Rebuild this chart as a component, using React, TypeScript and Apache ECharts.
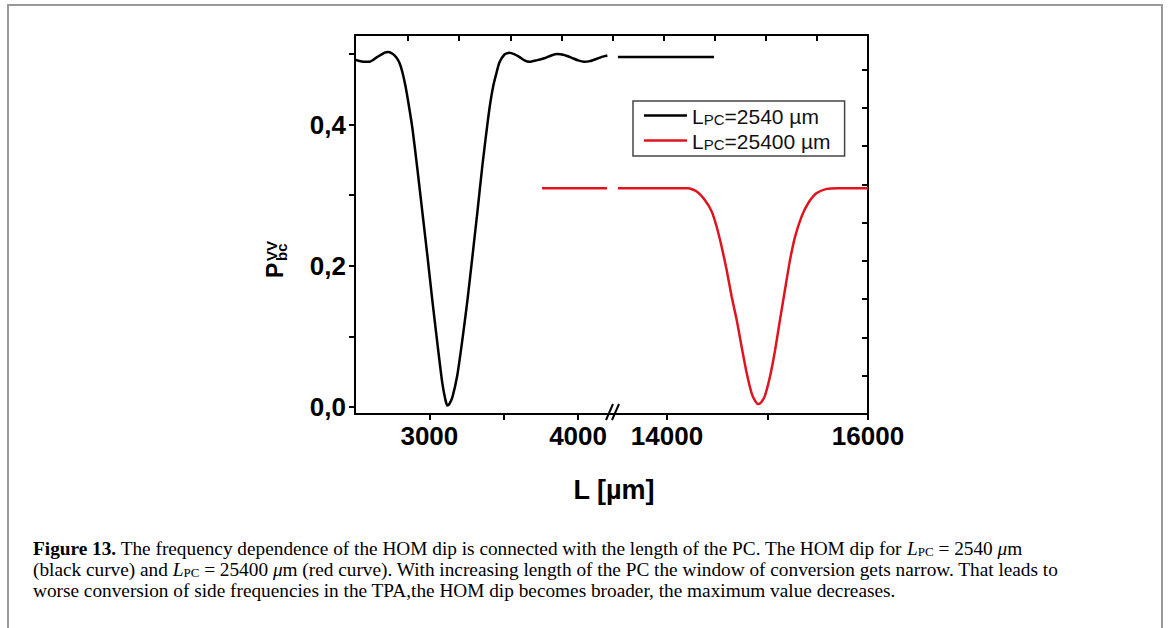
import React, { useEffect, useRef } from "react";
import * as echarts from "echarts";

// ---- data ----
const NAME_A = "LPC=2540 µm";
const NAME_B = "LPC=25400 µm";

// black curve, left segment of the broken x axis
const blackLeft: [number, number][] = [
  [2500, 0.492], [2516, 0.491], [2560, 0.489], [2597, 0.489], [2651, 0.496], [2700, 0.502],
  [2724, 0.503], [2755, 0.500], [2778, 0.495], [2798, 0.488], [2818, 0.475], [2839, 0.455],
  [2859, 0.431], [2886, 0.395], [2919, 0.338], [2953, 0.276], [2987, 0.214], [3020, 0.151],
  [3054, 0.090], [3087, 0.034], [3108, 0.010], [3121, 0.002], [3134, 0.004], [3155, 0.014],
  [3188, 0.045], [3222, 0.095], [3256, 0.151], [3289, 0.212], [3323, 0.276], [3356, 0.341],
  [3390, 0.400], [3410, 0.431], [3430, 0.455], [3451, 0.473], [3471, 0.488], [3504, 0.499],
  [3538, 0.502], [3570, 0.500], [3605, 0.496], [3640, 0.491], [3672, 0.489], [3720, 0.491],
  [3773, 0.494], [3820, 0.498], [3860, 0.500], [3900, 0.499], [3955, 0.495], [4000, 0.491],
  [4042, 0.489], [4080, 0.490], [4123, 0.493], [4160, 0.496], [4197, 0.498],
];
// black curve, right segment
const blackRight: [number, number][] = [[13512, 0.496], [14468, 0.496]];
// red curve, left segment
const redLeft: [number, number][] = [[3758, 0.31], [4195, 0.31]];
// red curve, right segment
const redRight: [number, number][] = [
  [13512, 0.31], [14209, 0.31], [14299, 0.305], [14378, 0.293], [14445, 0.277], [14495, 0.255],
  [14544, 0.227], [14594, 0.194], [14644, 0.156], [14694, 0.123], [14743, 0.085], [14793, 0.048],
  [14843, 0.019], [14880, 0.008], [14908, 0.004], [14940, 0.007], [14975, 0.016], [15025, 0.043],
  [15075, 0.080], [15124, 0.123], [15174, 0.166], [15224, 0.208], [15274, 0.241], [15340, 0.270],
  [15406, 0.289], [15490, 0.303], [15589, 0.309], [15700, 0.31], [16000, 0.31],
];

const leftTicks = [3000, 3500, 4000];
const leftLabels = [3000, 4000];
const rightTicks = [14000, 15000, 16000];
const rightLabels = [14000, 16000];
const yTicks = [0, 0.1, 0.2, 0.3, 0.4, 0.5];
const yLabels = [0, 0.2, 0.4];

const AX = "Liberation Sans";
const SERIF = "Liberation Serif";
const RED = "#e0141e";

export default function App() {
  const ref = useRef<HTMLDivElement>(null);
  useEffect(() => {
    if (!ref.current) return;
    const chart = echarts.init(ref.current, null, { renderer: "svg" });
    const axisLine = { show: true, onZero: false, lineStyle: { color: "#000", width: 2 } };
    const labelStyle = { color: "#000", fontSize: 26, fontWeight: "bold", fontFamily: AX };
    const lineBlack = { color: "#000", width: 2.5 };
    const lineRed = { color: RED, width: 2.5 };
    const FS = 19.3;
    const capRich = {
      r: { fontFamily: SERIF, fontSize: FS, color: "#111", lineHeight: 24, verticalAlign: "bottom" },
      b: { fontFamily: SERIF, fontSize: FS, fontWeight: "bold", color: "#111", lineHeight: 24, verticalAlign: "bottom" },
      i: { fontFamily: SERIF, fontSize: FS, fontStyle: "italic", color: "#111", lineHeight: 24, verticalAlign: "bottom" },
      s: { fontFamily: SERIF, fontSize: 13, color: "#111", lineHeight: 15, verticalAlign: "bottom" },
    };
    const numFmt = (v: number) => String(Math.round(v));
    const option: any = {
      animation: false,
      grid: [
        { left: 355, top: 35, width: 258, height: 379 },
        { left: 613, top: 35, width: 255, height: 379 },
        { left: 355, top: 35, width: 513, height: 379 },
      ],
      xAxis: [
        {
          gridIndex: 0, type: "value", min: 2500, max: 4235,
          axisLine, splitLine: { show: false },
          axisTick: { show: true, inside: false, length: 6, lineStyle: { color: "#000", width: 2 }, customValues: leftTicks },
          axisLabel: { ...labelStyle, margin: 9, customValues: leftLabels, formatter: numFmt },
        },
        {
          gridIndex: 1, type: "value", min: 13463, max: 16000,
          axisLine, splitLine: { show: false },
          axisTick: { show: true, inside: false, length: 6, lineStyle: { color: "#000", width: 2 }, customValues: rightTicks },
          axisLabel: { ...labelStyle, margin: 9, customValues: rightLabels, formatter: numFmt },
        },
        {
          gridIndex: 2, type: "value", position: "top", inverse: true, min: 0, max: 10.04, interval: 1,
          axisLine, splitLine: { show: false },
          axisTick: { show: true, inside: true, length: 6, lineStyle: { color: "#000", width: 2 }, customValues: [1, 2, 3, 4, 5, 6, 7, 8, 9] },
          axisLabel: { show: false },
        },
      ],
      yAxis: [
        {
          gridIndex: 0, type: "value", min: -0.01, max: 0.527,
          axisLine, splitLine: { show: false },
          axisTick: { show: true, inside: false, length: 6, lineStyle: { color: "#000", width: 2 }, customValues: yTicks },
          axisLabel: {
            ...labelStyle, margin: 9, customValues: yLabels,
            formatter: (v: number) => v.toFixed(1).replace(".", ","),
          },
        },
        { gridIndex: 1, type: "value", min: -0.01, max: 0.527, show: false },
        {
          gridIndex: 2, type: "value", position: "right", min: 0, max: 9.9, interval: 1,
          axisLine, splitLine: { show: false },
          axisTick: { show: true, inside: true, length: 6, lineStyle: { color: "#000", width: 2 }, customValues: [1, 2, 3, 4, 5, 6, 7, 8, 9] },
          axisLabel: { show: false },
        },
      ],
      legend: {
        show: true,
        data: [NAME_A, NAME_B],
        orient: "vertical",
        left: 633,
        top: 101,
        icon: "rect",
        itemWidth: 43,
        itemHeight: 2.5,
        itemGap: 4,
        padding: [5, 14, 4, 11],
        borderColor: "#444",
        borderWidth: 1.5,
        formatter: (n: string) =>
          n === NAME_A ? "{a|L}{b|PC}{a|=2540 µm}" : "{a|L}{b|PC}{a|=25400 µm}",
        textStyle: {
          color: "#000",
          rich: {
            a: { fontFamily: AX, fontSize: 21, color: "#111", lineHeight: 23, verticalAlign: "bottom" },
            b: { fontFamily: AX, fontSize: 15, color: "#111", lineHeight: 21, verticalAlign: "bottom" },
          },
        },
      },
      series: [
        { type: "line", name: NAME_A, xAxisIndex: 0, yAxisIndex: 0, data: blackLeft, symbol: "none", smooth: 0.2, lineStyle: lineBlack, itemStyle: { color: "#000" } },
        { type: "line", name: NAME_A, xAxisIndex: 1, yAxisIndex: 1, data: blackRight, symbol: "none", lineStyle: lineBlack, itemStyle: { color: "#000" } },
        { type: "line", name: NAME_B, xAxisIndex: 0, yAxisIndex: 0, data: redLeft, symbol: "none", lineStyle: lineRed, itemStyle: { color: RED } },
        { type: "line", name: NAME_B, xAxisIndex: 1, yAxisIndex: 1, data: redRight, symbol: "none", smooth: 0.2, lineStyle: lineRed, itemStyle: { color: RED } },
      ],
      graphic: [
        { type: "rect", silent: true, shape: { x: 8, y: 5, width: 1154, height: 700 }, style: { fill: "none", stroke: "#999", lineWidth: 2 } },
        // axis break marks
        { type: "line", shape: { x1: 606, y1: 420, x2: 613, y2: 404 }, style: { stroke: "#000", lineWidth: 2 } },
        { type: "line", shape: { x1: 612, y1: 420, x2: 619, y2: 404 }, style: { stroke: "#000", lineWidth: 2 } },
        // x axis title
        { type: "text", x: 614, y: 490, style: { text: "L [µm]", fontFamily: AX, fontWeight: "bold", fontSize: 27, fill: "#000", align: "center", verticalAlign: "middle" } },
        // y axis title P^VV_bc rotated
        {
          type: "group", x: 275, y: 278, rotation: Math.PI / 2,
          children: [
            { type: "text", x: 0, y: 0, style: { text: "P", fontFamily: AX, fontWeight: "bold", fontSize: 23, fill: "#000", align: "left", verticalAlign: "middle" } },
            { type: "text", x: 17, y: -4, style: { text: "VV", fontFamily: AX, fontWeight: "bold", fontSize: 15, fill: "#000", align: "left", verticalAlign: "middle" } },
            { type: "text", x: 17, y: 6, style: { text: "bc", fontFamily: AX, fontWeight: "bold", fontSize: 15, fill: "#000", align: "left", verticalAlign: "middle" } },
          ],
        },
        // caption
        {
          type: "text", x: 33, y: 546,
          style: {
            text: "{b|Figure 13.}{r| The frequency dependence of the HOM dip is connected with the length of the PC. The HOM dip for }{i|L}{s|PC}{r| = 2540 }{i|μ}{r|m}",
            rich: capRich, verticalAlign: "middle", align: "left",
          },
        },
        {
          type: "text", x: 33, y: 567,
          style: {
            text: "{r|(black curve) and }{i|L}{s|PC}{r| = 25400 }{i|μ}{r|m (red curve). With increasing length of the PC the window of conversion gets narrow. That leads to}",
            rich: capRich, verticalAlign: "middle", align: "left",
          },
        },
        {
          type: "text", x: 33, y: 588,
          style: {
            text: "{r|worse conversion of side frequencies in the TPA,the HOM dip becomes broader, the maximum value decreases.}",
            rich: capRich, verticalAlign: "middle", align: "left",
          },
        },
      ],
    };
    chart.setOption(option);
    return () => chart.dispose();
  }, []);
  return (
    <div
      ref={ref}
      style={{ position: "absolute", left: 0, top: 0, width: 1171, height: 628, background: "#fff" }}
    />
  );
}
